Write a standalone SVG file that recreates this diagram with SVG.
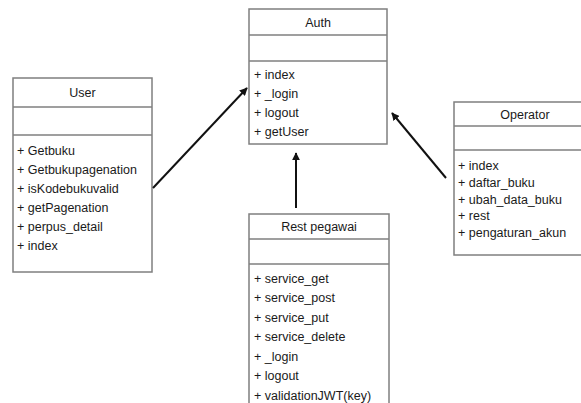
<svg xmlns="http://www.w3.org/2000/svg" width="581" height="403" viewBox="0 0 581 403">
<style>
.box{fill:#fff;stroke:#7f7f7f;stroke-width:1.5}
.sep{stroke:#7f7f7f;stroke-width:1.5}
text{font-family:"Liberation Sans",Arial,sans-serif;font-size:12.5px;fill:#1a1a1a}
.t{text-anchor:middle}
.con{stroke:#111;stroke-width:2;fill:none;marker-end:url(#ah)}
</style>
<defs>
<marker id="ah" viewBox="0 0 10 10" refX="9" refY="5" markerWidth="4" markerHeight="4" orient="auto" markerUnits="strokeWidth">
<path d="M0,0 L10,5 L0,10 z" fill="#111"/>
</marker>
</defs>
<rect width="581" height="403" fill="#fff"/>
<g id="user">
<rect class="box" x="13" y="78" width="139" height="194"/>
<line class="sep" x1="13" y1="107" x2="152" y2="107"/>
<line class="sep" x1="13" y1="135" x2="152" y2="135"/>
<text class="t" x="82.5" y="97">User</text>
<text x="17" y="155">+ Getbuku</text>
<text x="17" y="174">+ Getbukupagenation</text>
<text x="17" y="193">+ isKodebukuvalid</text>
<text x="17" y="212">+ getPagenation</text>
<text x="17" y="231">+ perpus_detail</text>
<text x="17" y="250">+ index</text>
</g>
<g id="auth">
<rect class="box" x="249" y="9" width="138" height="135"/>
<line class="sep" x1="249" y1="35" x2="387" y2="35"/>
<line class="sep" x1="249" y1="61" x2="387" y2="61"/>
<text class="t" x="318" y="27">Auth</text>
<text x="254" y="78.5">+ index</text>
<text x="254" y="97.5">+ _login</text>
<text x="254" y="116.5">+ logout</text>
<text x="254" y="135.5">+ getUser</text>
</g>
<g id="operator">
<rect class="box" x="454" y="102" width="142" height="153"/>
<line class="sep" x1="454" y1="126" x2="596" y2="126"/>
<line class="sep" x1="454" y1="150" x2="596" y2="150"/>
<text class="t" x="525" y="119">Operator</text>
<text x="458" y="169.5">+ index</text>
<text x="458" y="186.5">+ daftar_buku</text>
<text x="458" y="203.5">+ ubah_data_buku</text>
<text x="458" y="219.5">+ rest</text>
<text x="458" y="236.5">+ pengaturan_akun</text>
</g>
<g id="rest-pegawai">
<rect class="box" x="249" y="214" width="140" height="200"/>
<line class="sep" x1="249" y1="239" x2="389" y2="239"/>
<line class="sep" x1="249" y1="264" x2="389" y2="264"/>
<text class="t" x="319" y="231">Rest pegawai</text>
<text x="254" y="282.5">+ service_get</text>
<text x="254" y="302">+ service_post</text>
<text x="254" y="321.5">+ service_put</text>
<text x="254" y="341">+ service_delete</text>
<text x="254" y="360.5">+ _login</text>
<text x="254" y="380">+ logout</text>
<text x="254" y="399.5">+ validationJWT(key)</text>
</g>
<g id="connectors">
<line class="con" x1="153" y1="188" x2="247" y2="88"/>
<line class="con" x1="296" y1="208" x2="296" y2="153"/>
<line class="con" x1="446" y1="178" x2="392" y2="113"/>
</g>
</svg>
